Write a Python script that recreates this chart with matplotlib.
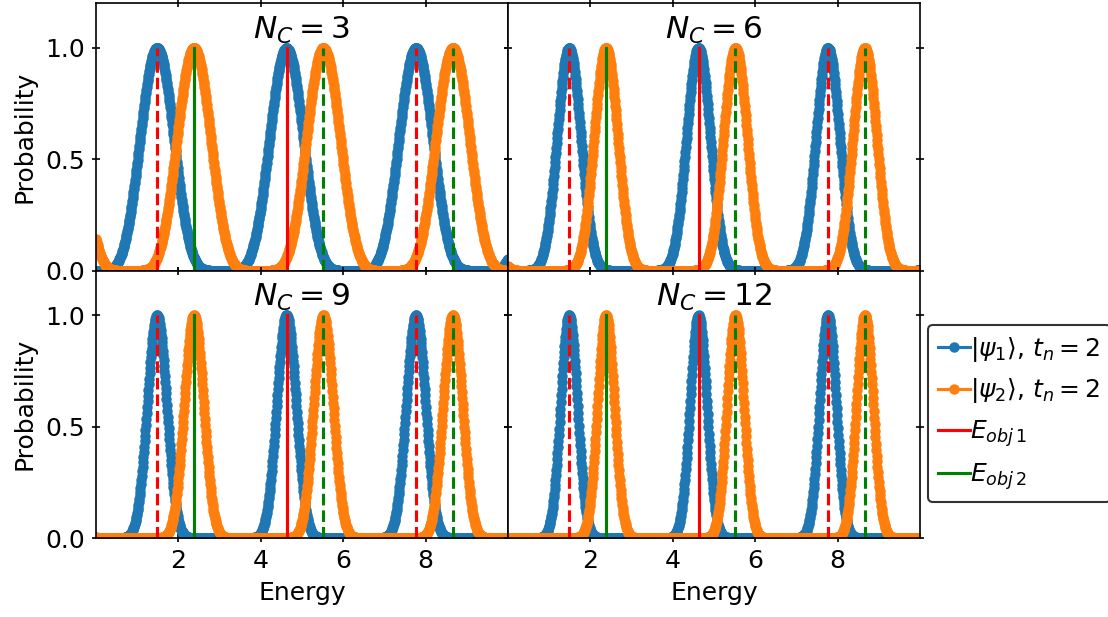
import numpy as np
import matplotlib
matplotlib.use('Agg')
import matplotlib.pyplot as plt

# values
n_c = [3, 6, 9, 12]          # number of controls, one per panel
t_n = 2                      # evolution time
e_obj1 = 4.625               # target energy 1 (red)
e_obj2 = 2.38                # target energy 2 (green)
red_shifts = [-1, 0, 1]      # periodic images of E_obj1 shown
green_shifts = [0, 1, 2]     # periodic images of E_obj2 shown
energy = np.linspace(0, 10, 1000)
xticks = [2, 4, 6, 8]
yticks = [0.0, 0.5, 1.0]


def prob(E, E0, n):
    return np.cos(t_n * (E - E0) / 2) ** (2 * n)


period = 2 * np.pi / t_n
plt.rcParams['font.size'] = 12

fig, axs = plt.subplots(2, 2, figsize=(1108 / 150, 617 / 150), dpi=150,
                        sharex=True, sharey=True)
fig.subplots_adjust(left=0.0866, right=0.8303, top=0.9945, bottom=0.128,
                    wspace=0, hspace=0)

for ax, n in zip(axs.flat, n_c):
    ax.plot(energy, prob(energy, e_obj1, n), '-o', color='C0', markersize=4,
            label=r'$|\psi_1\rangle$, $t_n=2$')
    ax.plot(energy, prob(energy, e_obj2, n), '-o', color='C1', markersize=4,
            label=r'$|\psi_2\rangle$, $t_n=2$')
    for k in red_shifts:
        x = e_obj1 + k * period
        if k == 0:
            ax.plot([x, x], [0, 1], '-', color='red', label=r'$E_{obj\,1}$')
        else:
            ax.plot([x, x], [0, 1], '--', color='red')
    for k in green_shifts:
        x = e_obj2 + k * period
        if k == 0:
            ax.plot([x, x], [0, 1], '-', color='green', label=r'$E_{obj\,2}$')
        else:
            ax.plot([x, x], [0, 1], '--', color='green')
    ax.set_title(r'$N_C=%d$' % n, y=0.82, fontsize=15)
    ax.set_xlim(0, 10)
    ax.set_ylim(0, 1.2)
    ax.set_xticks(xticks)
    ax.set_yticks(yticks)
    ax.tick_params(direction='inout', top=True, right=True)

for ax in axs[:, 0]:
    ax.set_ylabel('Probability')
for ax in axs[1, :]:
    ax.set_xlabel('Energy')

handles, labels = axs[0, 0].get_legend_handles_labels()
fig.legend(handles, labels, loc='center left', bbox_to_anchor=(0.8375, 0.33),
           borderaxespad=0, edgecolor='k', handlelength=1.3, handletextpad=0)

fig.savefig('out.png', dpi=150)
